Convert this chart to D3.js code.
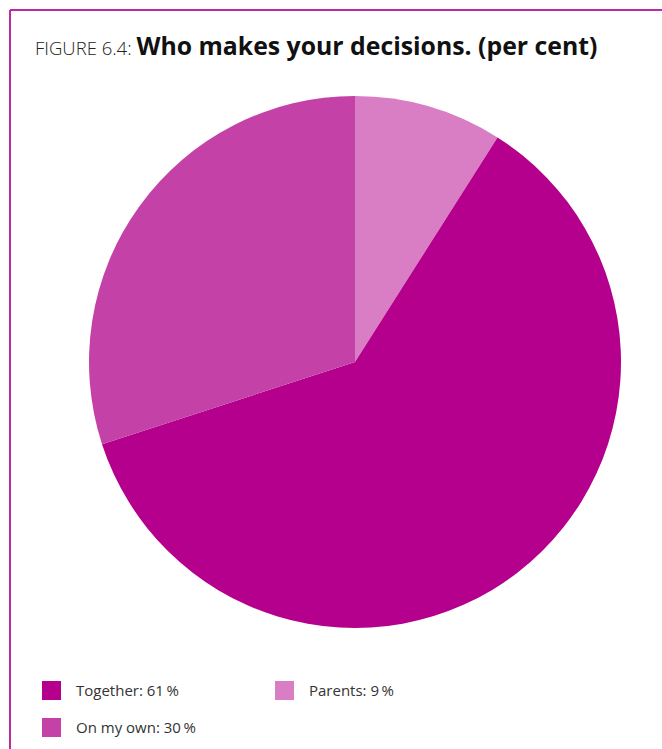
<!DOCTYPE html>
<html>
<head>
<meta charset="utf-8">
<script src="https://cdn.jsdelivr.net/npm/d3@7"></script>
<style>
  html, body { margin: 0; padding: 0; background: #fff; }
  svg { display: block; font-family: "Open Sans", "Noto Sans", sans-serif; }
</style>
</head>
<body>
<svg id="chart" width="662" height="749"></svg>
<script>
// Answers to "Who makes your decisions", per cent
const categories = ["Parents", "Together", "On my own"];
const values = [9, 61, 30];
const colors = ["#D97EC4", "#B5008E", "#C441A7"];

// Legend order (two columns)
const legendOrder = ["Together", "Parents", "On my own"];

const svg = d3.select("#chart");
const W = 662, H = 749;

// Frame: top and left rules
svg.append("line").attr("x1", 10).attr("y1", 10).attr("x2", W).attr("y2", 10)
  .attr("stroke", "#C02A9F").attr("stroke-width", 2);
svg.append("line").attr("x1", 10).attr("y1", 10).attr("x2", 10).attr("y2", H)
  .attr("stroke", "#C02A9F").attr("stroke-width", 2);

// Title
const title = svg.append("text").attr("x", 35).attr("y", 55).attr("fill", "#111");
title.append("tspan").attr("font-size", 18.5).attr("font-weight", 300)
  .attr("fill", "#222").text("FIGURE 6.4: ");
title.append("tspan").attr("font-size", 24.8).attr("font-weight", 700).text("Who makes your decisions. (per cent)");

// Pie
const cx = 355, cy = 362, r = 266;
const data = categories.map((c, i) => ({ name: c, value: values[i], color: colors[i] }));
const pie = d3.pie().value(d => d.value).sort(null);
const arc = d3.arc().innerRadius(0).outerRadius(r);

svg.append("g").attr("transform", `translate(${cx},${cy})`)
  .selectAll("path").data(pie(data)).join("path")
  .attr("d", arc).attr("fill", d => d.data.color);

// Legend
const colX = [42, 275], rowY = [681, 718];
const byName = new Map(data.map(d => [d.name, d]));
legendOrder.forEach((name, i) => {
  const d = byName.get(name);
  const x = colX[i % 2], y = rowY[Math.floor(i / 2)];
  svg.append("rect").attr("x", x).attr("y", y).attr("width", 19).attr("height", 19).attr("fill", d.color);
  svg.append("text").attr("x", x + 34).attr("y", y + 15)
    .attr("font-size", 15).attr("fill", "#333")
    .text(`${d.name}: ${d.value}\u2009%`);
});
</script>
</body>
</html>
